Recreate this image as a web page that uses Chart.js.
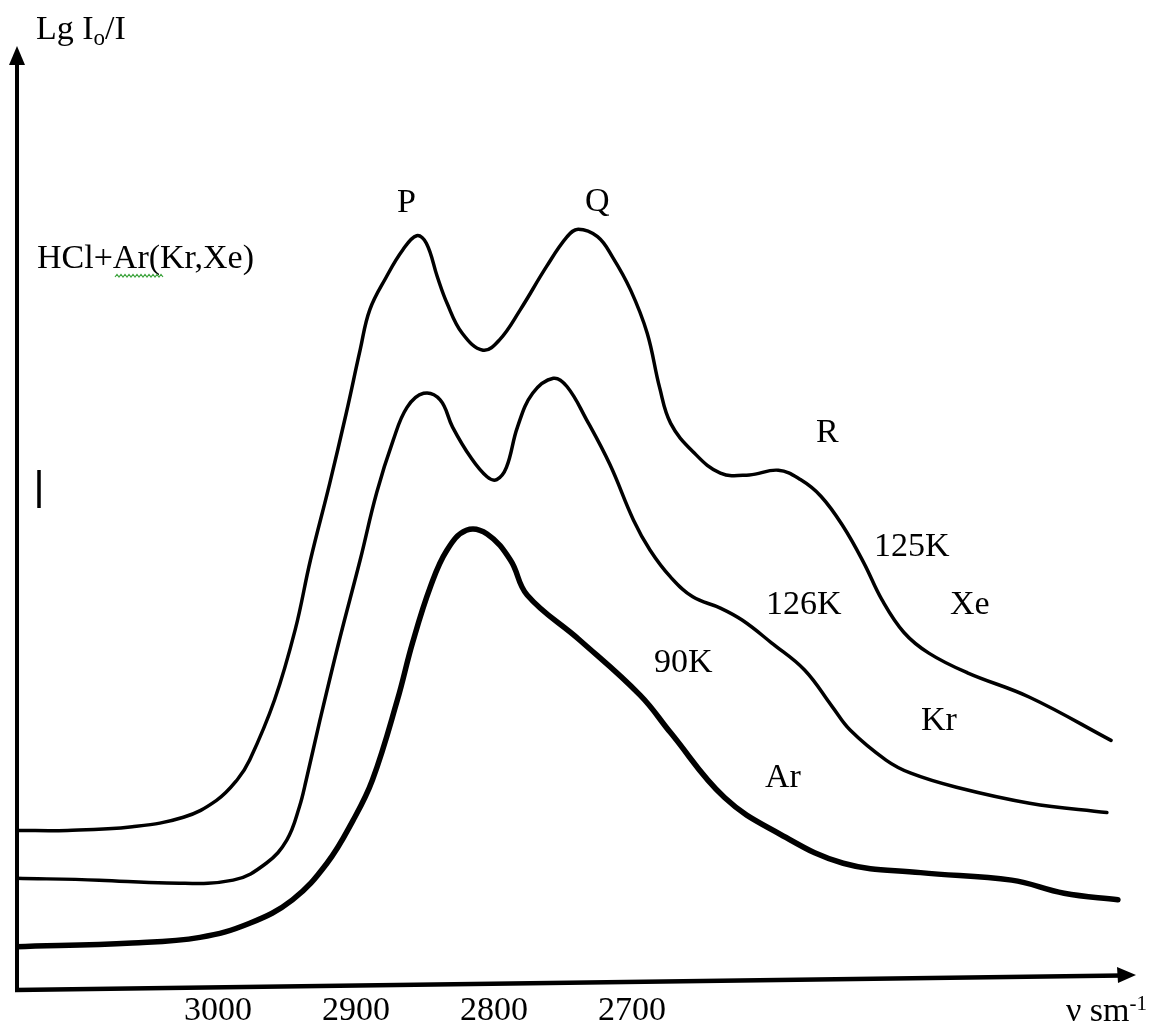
<!DOCTYPE html>
<html>
  <head>
    <title>HCl spectrum</title>
    <script src="https://cdn.jsdelivr.net/npm/chart.js"></script>
    <style>
      body { margin: 0; background: #ffffff; }
      #wrap { width: 1157px; height: 1023px; position: relative; }
    </style>
  </head>

  <body>
    <div id="wrap">
      <canvas id="spectrum"></canvas>
    </div>

    <script>
      // wavenumbers (sm-1) and lg I0/I values
      var xeNu = [3146, 3109, 3062, 3025, 3001, 2986, 2977, 2959, 2944, 2933, 2919, 2907, 2897, 2890, 2878, 2866, 2856, 2849, 2841, 2834, 2823, 2808, 2796, 2781, 2762, 2747, 2739, 2725, 2714, 2701, 2689, 2680, 2672, 2656, 2636, 2615, 2594, 2578, 2563, 2547, 2532, 2519, 2503, 2485, 2457, 2412, 2353];
      var xeLg = [16.8, 16.8, 17.2, 18.2, 20.0, 22.2, 24.3, 30.7, 38.2, 45.6, 53.8, 61.3, 68.0, 72.3, 75.8, 78.7, 80.2, 79.4, 75.8, 73.0, 69.8, 68.0, 69.1, 72.3, 76.9, 80.1, 80.9, 80.1, 77.9, 74.4, 69.8, 64.0, 60.2, 57.2, 54.9, 54.7, 55.2, 54.2, 52.4, 49.2, 45.3, 41.4, 37.9, 35.7, 33.6, 31.0, 26.4];

      var krNu = [3146, 3086, 3037, 2989, 2965, 2950, 2941, 2936, 2926, 2912, 2897, 2885, 2873, 2863, 2851, 2839, 2830, 2817, 2805, 2798, 2791, 2783, 2772, 2757, 2747, 2733, 2716, 2699, 2687, 2672, 2656, 2636, 2620, 2599, 2575, 2555, 2542, 2516, 2498, 2465, 2412, 2356];
      var krLg = [11.7, 11.5, 11.2, 11.5, 13.3, 15.8, 19.3, 22.2, 28.6, 37.1, 45.6, 52.8, 58.4, 61.9, 63.4, 62.7, 59.8, 56.6, 54.5, 54.2, 55.5, 59.8, 63.4, 65.0, 64.1, 60.6, 55.8, 49.9, 46.7, 43.8, 41.7, 40.5, 39.2, 36.8, 33.9, 30.0, 27.5, 24.3, 22.9, 21.4, 19.7, 18.7];

      var arNu = [3146, 3062, 3013, 2977, 2946, 2921, 2902, 2888, 2870, 2859, 2846, 2834, 2820, 2805, 2788, 2776, 2738, 2694, 2672, 2633, 2594, 2547, 2491, 2425, 2387, 2348];
      var arLg = [4.4, 4.8, 5.4, 6.9, 9.4, 13.3, 17.9, 22.2, 30.7, 36.8, 42.8, 46.7, 48.8, 48.4, 45.6, 41.9, 37.1, 31.2, 27.2, 20.3, 16.5, 13.3, 12.3, 11.5, 10.1, 9.4];

      var tickValues = [3000, 2900, 2800, 2700];

      // text written on the sketch: [text, left, baseline]
      var notes = [
        ["P", 397, 212],
        ["Q", 585, 211],
        ["R", 816, 442],
        ["125K", 874, 556],
        ["Xe", 950, 614],
        ["126K", 766, 614],
        ["90K", 654, 672],
        ["Kr", 921, 730],
        ["Ar", 765, 787],
        ["HCl+Ar(Kr,Xe)", 37, 268],
      ];

      function points(nu, lg) {
        return nu.map(function (v, i) {
          return { x: v, y: lg[i] };
        });
      }

      var serif = "'Liberation Serif', 'Times New Roman', serif";

      var sketchAxes = {
        id: "sketchAxes",
        afterDraw: function (chart) {
          var ctx = chart.ctx;
          ctx.save();
          ctx.strokeStyle = "#000";
          ctx.fillStyle = "#000";
          ctx.lineCap = "butt";

          // vertical axis with arrow
          ctx.lineWidth = 4;
          ctx.beginPath();
          ctx.moveTo(17, 991);
          ctx.lineTo(17, 60);
          ctx.stroke();
          ctx.beginPath();
          ctx.moveTo(17, 46);
          ctx.lineTo(25, 65);
          ctx.lineTo(9, 65);
          ctx.closePath();
          ctx.fill();

          // horizontal axis, drawn slightly tilted as in the sketch
          ctx.lineWidth = 4.5;
          ctx.beginPath();
          ctx.moveTo(15, 990);
          ctx.lineTo(1122, 975.5);
          ctx.stroke();
          ctx.beginPath();
          ctx.moveTo(1136, 975);
          ctx.lineTo(1117, 967);
          ctx.lineTo(1118, 983);
          ctx.closePath();
          ctx.fill();

          // stray mark left of the curves
          ctx.lineWidth = 3.5;
          ctx.beginPath();
          ctx.moveTo(39, 470);
          ctx.lineTo(39, 508);
          ctx.stroke();

          ctx.font = "34px " + serif;
          ctx.textBaseline = "alphabetic";
          ctx.textAlign = "left";
          notes.forEach(function (n) {
            ctx.fillText(n[0], n[1], n[2]);
          });

          // Lg I0/I
          ctx.fillText("Lg I", 36, 39);
          var w = ctx.measureText("Lg I").width;
          ctx.font = "23px " + serif;
          ctx.fillText("o", 36 + w, 45);
          var w2 = ctx.measureText("o").width;
          ctx.font = "34px " + serif;
          ctx.fillText("/I", 36 + w + w2, 39);

          // ν sm-1
          ctx.fillText("\u03bd sm", 1066, 1021);
          var w3 = ctx.measureText("\u03bd sm").width;
          ctx.font = "21px " + serif;
          ctx.fillText("-1", 1066 + w3, 1010);

          // spell-check squiggle under "Ar"
          ctx.strokeStyle = "#3aa23a";
          ctx.lineWidth = 1.2;
          ctx.beginPath();
          for (var x = 115, k = 0; x <= 163; x += 2, k++) {
            var y = k % 2 === 0 ? 277 : 274.5;
            if (k === 0) ctx.moveTo(x, y);
            else ctx.lineTo(x, y);
          }
          ctx.stroke();
          ctx.restore();
        },
      };

      var curve = {
        pointRadius: 0,
        borderColor: "#000000",
        backgroundColor: "#000000",
        fill: false,
        tension: 0.4,
        borderCapStyle: "round",
        borderJoinStyle: "round",
      };

      var spectrum = new Chart(document.getElementById("spectrum").getContext("2d"), {
        type: "line",
        data: {
          datasets: [
            Object.assign({ label: "Xe 125K", data: points(xeNu, xeLg), borderWidth: 3.5 }, curve),
            Object.assign({ label: "Kr 126K", data: points(krNu, krLg), borderWidth: 3.5 }, curve),
            Object.assign({ label: "Ar 90K", data: points(arNu, arLg), borderWidth: 5.5 }, curve),
          ],
        },
        options: {
          responsive: true,
          maintainAspectRatio: false,
          animation: false,
          layout: { padding: { left: 15, right: 17, top: 50, bottom: 0 } },
          plugins: {
            legend: { display: false },
            tooltip: { enabled: false },
          },
          scales: {
            x: {
              type: "linear",
              reverse: true,
              min: 2332,
              max: 3147,
              grid: { display: false, drawTicks: false },
              border: { display: false },
              afterBuildTicks: function (scale) {
                scale.ticks = tickValues.map(function (v) {
                  return { value: v };
                });
              },
              afterFit: function (scale) {
                scale.height = 35;
              },
              ticks: {
                color: "#000",
                padding: 3,
                maxRotation: 0,
                autoSkip: false,
                font: { family: serif, size: 34 },
                callback: function (value) {
                  return String(value);
                },
              },
            },
            y: {
              display: false,
              min: 0,
              max: 100,
            },
          },
        },
        plugins: [sketchAxes],
      });
    </script>
  </body>
</html>
